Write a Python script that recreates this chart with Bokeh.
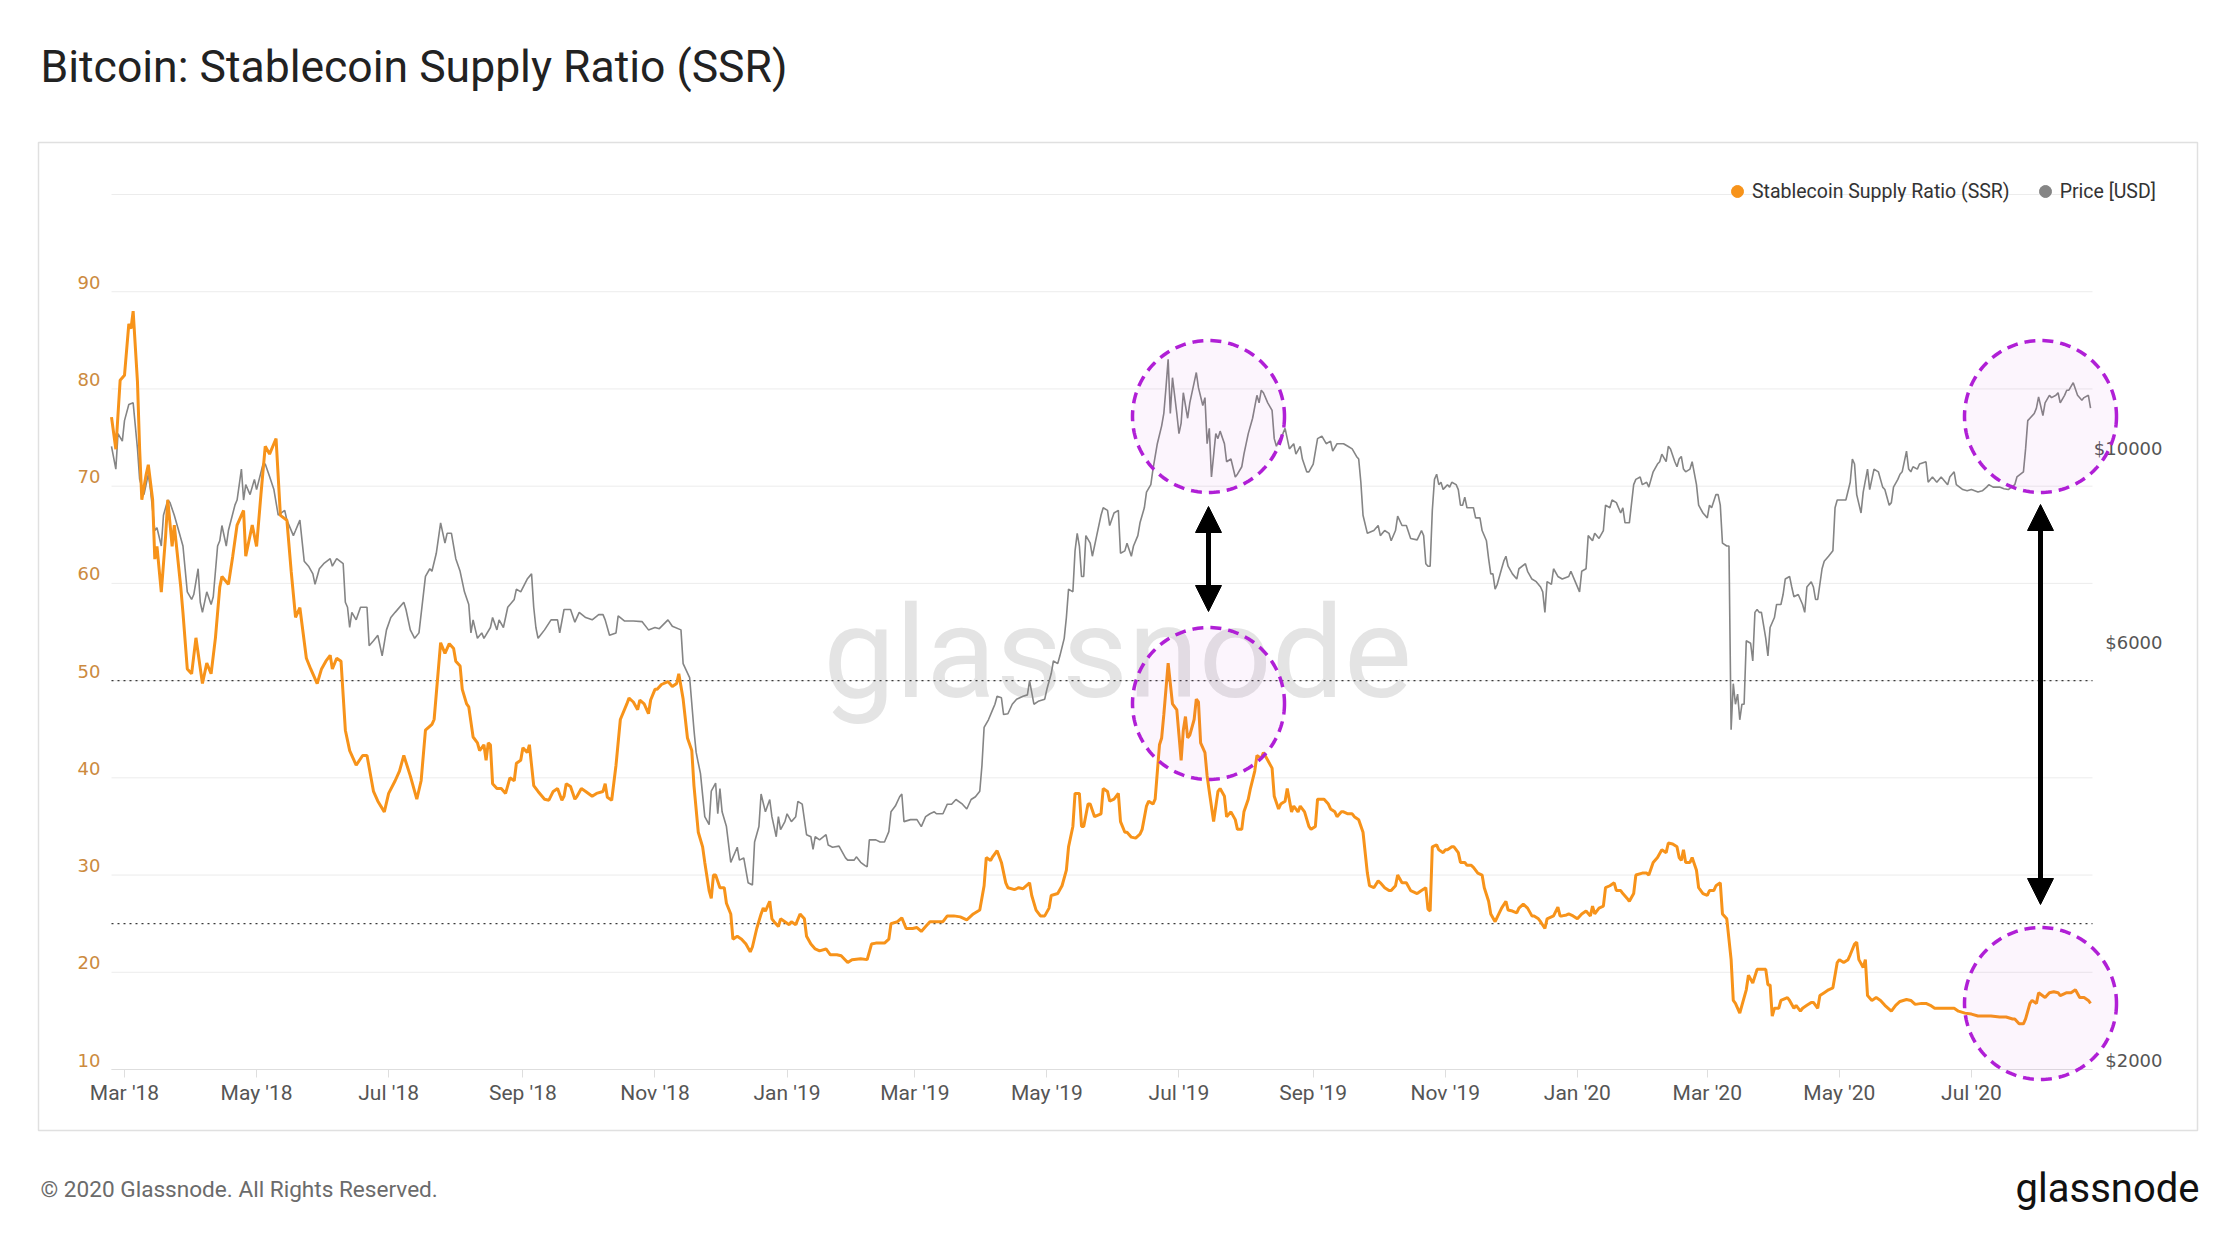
import numpy as np
import pandas as pd
from bokeh.plotting import figure
from bokeh.models import (Range1d, LogScale, FixedTicker, DatetimeTickFormatter, Label, Legend,
                          LegendItem, BoxAnnotation, PolyAnnotation, Arrow, NormalHead)
from bokeh.embed import file_html
from bokeh.resources import INLINE

# ---------------- data ----------------
START = "2018-03-01"   # day 0

ssr_day = [
    -6, -4, -2, 0, 2, 3, 4, 6, 7, 8,
    10, 11, 13, 14, 15, 17, 19, 20, 22, 23,
    26, 27, 29, 31, 33, 36, 38, 40, 42, 44,
    45, 48, 50, 52, 55, 56, 59, 61, 63, 65,
    67, 70, 72, 75, 77, 79, 81, 84, 86, 89,
    91, 93, 95, 96, 98, 100, 102, 104, 107, 110,
    112, 115, 117, 120, 122, 125, 127, 129, 132, 135,
    137, 139, 142, 143, 146, 148, 150, 152, 153, 155,
    156, 158, 159, 161, 163, 164, 166, 167, 168, 169,
    170, 172, 174, 176, 178, 180, 181, 183, 184, 186,
    187, 189, 191, 194, 196, 198, 200, 202, 203, 204,
    206, 208, 209, 211, 213, 216, 218, 221, 222, 223,
    225, 227, 229, 232, 233, 235, 237, 238, 240, 242,
    243, 245, 246, 248, 251, 253, 255, 256, 258, 260,
    262, 263, 265, 267, 268, 270, 271, 272, 273, 275,
    277, 278, 280, 281, 283, 285, 287, 289, 290, 292,
    294, 295, 296, 298, 299, 300, 302, 303, 305, 307,
    308, 310, 312, 314, 315, 317, 319, 321, 324, 326,
    329, 331, 334, 336, 340, 343, 345, 347, 351, 353,
    354, 357, 359, 361, 364, 366, 368, 370, 372, 375,
    378, 380, 383, 386, 389, 392, 395, 397, 398, 400,
    401, 403, 405, 407, 408, 411, 413, 415, 418, 419,
    421, 423, 425, 427, 428, 431, 433, 435, 436, 438,
    439, 441, 442, 443, 445, 446, 448, 451, 452, 454,
    455, 457, 459, 460, 462, 463, 465, 467, 469, 470,
    472, 473, 475, 476, 478, 479, 480, 482, 483, 484,
    486, 487, 488, 489, 490, 491, 492, 494, 495, 496,
    497, 499, 500, 501, 503, 505, 506, 508, 509, 511,
    513, 514, 516, 517, 519, 520, 522, 523, 525, 526,
    528, 530, 531, 533, 534, 536, 537, 539, 540, 542,
    543, 545, 547, 548, 550, 551, 553, 554, 556, 557,
    559, 560, 562, 563, 565, 567, 568, 570, 572, 574,
    575, 577, 579, 580, 582, 584, 585, 587, 588, 590,
    592, 594, 597, 599, 601, 602, 603, 604, 606, 607,
    609, 610, 611, 613, 614, 616, 617, 619, 620, 622,
    623, 625, 627, 628, 630, 631, 633, 636, 638, 639,
    641, 643, 644, 646, 648, 650, 651, 653, 654, 656,
    657, 659, 660, 662, 663, 664, 666, 667, 669, 671,
    673, 675, 677, 678, 679, 681, 683, 684, 686, 688,
    689, 691, 692, 694, 695, 697, 698, 701, 703, 704,
    706, 708, 710, 712, 713, 715, 717, 718, 719, 720,
    721, 723, 724, 726, 727, 729, 731, 732, 734, 735,
    737, 738, 740, 742, 743, 744, 746, 747, 749, 750,
    752, 754, 755, 756, 758, 759, 760, 761, 762, 764,
    765, 768, 769, 771, 772, 774, 775, 777, 779, 780,
    782, 783, 785, 787, 789, 791, 792, 794, 796, 797,
    799, 800, 801, 803, 804, 805, 807, 809, 811, 813,
    816, 818, 820, 823, 825, 827, 830, 832, 834, 836,
    839, 842, 845, 847, 850, 853, 856, 859, 862, 866,
    869, 872, 873, 875, 877, 878, 880, 881, 883, 884,
    887, 889, 891, 893, 894, 897, 899, 901, 903, 905,
    907, 908,
]
ssr_value = [
    77.1, 73.8, 80.9, 81.4, 86.7, 86.2, 88.0, 80.7, 73.8, 68.6,
    71.2, 72.2, 68.6, 62.5, 63.8, 59.1, 64.9, 68.6, 63.8, 66.0,
    59.6, 57.0, 51.2, 50.7, 54.4, 49.7, 51.8, 50.7, 54.4, 59.6,
    60.7, 59.9, 62.8, 66.0, 67.5, 62.8, 66.0, 63.8, 69.1, 74.1,
    73.3, 74.9, 67.0, 66.5, 61.2, 56.5, 57.5, 52.3, 51.2, 49.7,
    51.2, 52.0, 52.6, 51.2, 52.3, 52.0, 44.9, 42.8, 41.3, 42.3,
    42.3, 38.6, 37.6, 36.5, 38.4, 39.7, 40.7, 42.3, 40.2, 37.8,
    39.7, 44.9, 45.5, 46.0, 53.9, 52.8, 53.8, 53.3, 52.0, 51.5,
    49.1, 47.6, 47.3, 44.2, 43.6, 42.8, 43.4, 41.8, 43.6, 43.4,
    39.4, 38.9, 38.9, 38.4, 40.0, 39.7, 41.5, 41.8, 43.1, 42.6,
    43.4, 39.2, 38.6, 37.8, 37.7, 38.6, 38.9, 37.7, 38.1, 39.4,
    39.1, 37.8, 38.1, 38.9, 38.6, 38.1, 38.4, 38.6, 39.4, 38.0,
    37.7, 41.3, 46.0, 47.6, 48.2, 47.8, 47.0, 48.0, 47.6, 46.6,
    48.0, 49.1, 49.1, 49.6, 49.9, 49.4, 49.7, 50.7, 48.1, 44.1,
    42.8, 39.2, 34.4, 32.9, 31.3, 28.4, 27.6, 30.0, 30.0, 28.7,
    28.7, 27.1, 26.0, 23.4, 23.7, 23.4, 22.9, 22.1, 22.6, 24.5,
    26.0, 26.6, 26.3, 27.3, 25.5, 25.2, 24.7, 25.5, 25.2, 24.9,
    25.2, 24.9, 26.0, 25.5, 23.7, 22.9, 22.4, 22.2, 22.4, 21.8,
    21.8, 21.7, 21.0, 21.3, 21.4, 21.3, 22.9, 23.0, 23.0, 23.4,
    25.0, 25.2, 25.6, 24.5, 24.5, 24.6, 24.2, 24.7, 25.2, 25.2,
    25.2, 25.8, 25.8, 25.7, 25.4, 26.0, 26.4, 28.9, 31.8, 31.5,
    31.9, 32.5, 31.3, 29.2, 28.7, 28.5, 28.7, 28.6, 29.2, 27.9,
    26.4, 25.8, 25.8, 26.6, 27.9, 28.1, 28.9, 30.5, 32.9, 35.0,
    38.4, 38.4, 35.0, 35.0, 37.3, 37.3, 36.0, 36.3, 38.9, 38.6,
    37.6, 37.8, 38.4, 35.5, 34.4, 34.4, 33.9, 33.8, 34.2, 34.7,
    37.1, 37.6, 37.3, 37.8, 43.4, 44.1, 46.5, 51.8, 49.7, 47.6,
    47.0, 44.4, 41.8, 44.9, 46.3, 44.1, 44.4, 46.0, 48.1, 47.8,
    43.6, 42.6, 40.2, 38.6, 35.5, 38.6, 38.9, 38.1, 36.0, 36.5,
    35.7, 34.7, 34.7, 36.5, 37.8, 38.9, 40.7, 42.3, 42.0, 42.6,
    41.8, 41.0, 38.1, 36.8, 37.3, 37.6, 38.9, 36.5, 37.1, 36.5,
    37.1, 36.5, 35.0, 34.7, 35.0, 37.8, 37.8, 37.8, 37.3, 36.8,
    36.5, 36.0, 36.5, 36.5, 36.3, 36.3, 36.0, 35.7, 34.4, 30.2,
    28.9, 28.7, 29.4, 29.2, 28.7, 28.4, 28.4, 28.9, 30.0, 29.2,
    29.2, 28.4, 28.1, 28.4, 28.7, 26.5, 26.3, 32.9, 33.1, 32.6,
    32.3, 32.6, 32.6, 32.9, 32.9, 32.3, 31.3, 31.3, 31.0, 31.0,
    30.8, 30.2, 30.0, 28.7, 27.3, 26.0, 25.2, 26.6, 27.3, 26.4,
    26.3, 26.1, 26.6, 27.0, 26.6, 25.8, 25.8, 25.5, 25.2, 24.5,
    25.5, 25.7, 25.8, 26.7, 25.8, 25.8, 25.9, 26.0, 25.8, 25.5,
    26.0, 26.3, 25.8, 26.8, 26.0, 26.6, 26.8, 28.7, 28.9, 29.2,
    28.4, 28.4, 28.1, 27.6, 27.3, 28.1, 30.0, 30.2, 30.2, 30.0,
    31.3, 31.8, 32.6, 32.3, 33.3, 33.2, 32.9, 31.8, 31.5, 32.6,
    31.3, 31.3, 31.8, 30.5, 28.7, 28.1, 27.9, 28.4, 28.4, 28.9,
    29.2, 26.0, 25.5, 21.3, 17.1, 16.8, 15.8, 16.6, 18.2, 19.7,
    18.9, 20.3, 20.3, 20.3, 20.3, 18.7, 18.7, 15.5, 16.3, 16.3,
    17.1, 17.4, 17.1, 16.3, 16.6, 16.0, 16.3, 16.6, 16.9, 16.9,
    16.3, 17.6, 17.9, 18.2, 18.4, 21.0, 21.3, 21.0, 21.3, 21.8,
    22.9, 23.1, 21.3, 20.5, 21.3, 17.6, 17.1, 17.4, 17.1, 16.6,
    16.0, 16.6, 17.0, 17.2, 17.1, 16.7, 16.8, 16.8, 16.6, 16.3,
    16.3, 16.3, 16.3, 16.0, 15.8, 15.7, 15.5, 15.5, 15.5, 15.4,
    15.4, 15.2, 15.2, 14.7, 14.7, 15.2, 16.8, 17.1, 16.8, 17.9,
    17.4, 17.9, 18.0, 17.9, 17.6, 17.9, 17.9, 18.2, 17.4, 17.4,
    17.1, 16.8,
]

price_day = [
    -6, -4, -3, -1, 0, 2, 4, 6, 7, 9,
    11, 12, 14, 15, 17, 18, 20, 21, 23, 25,
    27, 29, 31, 32, 34, 35, 36, 38, 40, 41,
    43, 44, 45, 47, 48, 51, 52, 54, 55, 56,
    58, 60, 61, 64, 65, 67, 69, 71, 74, 75,
    78, 79, 81, 83, 85, 87, 88, 90, 92, 95,
    96, 98, 101, 102, 103, 104, 105, 107, 109, 112,
    113, 115, 117, 119, 121, 123, 125, 129, 130, 132,
    134, 136, 139, 141, 142, 144, 146, 148, 149, 151,
    153, 155, 157, 159, 160, 161, 163, 165, 166, 169,
    170, 172, 173, 175, 177, 180, 181, 183, 186, 188,
    189, 190, 191, 194, 197, 200, 201, 203, 206, 208,
    210, 213, 216, 219, 221, 222, 224, 227, 228, 231,
    235, 239, 242, 245, 247, 251, 253, 257, 258, 261,
    263, 264, 265, 266, 268, 270, 271, 273, 274, 275,
    276, 278, 280, 283, 284, 286, 288, 290, 291, 293,
    294, 296, 298, 299, 300, 301, 302, 303, 305, 306,
    308, 310, 311, 313, 315, 317, 318, 319, 321, 324,
    325, 327, 330, 333, 334, 337, 338, 340, 342, 343,
    344, 347, 349, 351, 353, 354, 356, 358, 359, 360,
    363, 366, 368, 370, 372, 374, 375, 378, 380, 382,
    384, 387, 389, 391, 393, 395, 396, 397, 399, 401,
    402, 403, 405, 406, 408, 410, 412, 415, 417, 418,
    420, 422, 425, 426, 428, 429, 431, 432, 434, 435,
    436, 438, 439, 440, 441, 442, 443, 444, 446, 447,
    448, 449, 451, 452, 454, 455, 457, 459, 460, 462,
    463, 465, 466, 468, 469, 471, 472, 474, 475, 477,
    479, 480, 481, 482, 483, 484, 486, 487, 488, 489,
    491, 492, 494, 495, 496, 498, 499, 500, 501, 502,
    504, 505, 506, 508, 509, 511, 513, 514, 516, 517,
    519, 521, 523, 524, 525, 526, 528, 530, 531, 532,
    533, 535, 536, 538, 540, 541, 543, 544, 546, 547,
    549, 551, 553, 555, 557, 558, 560, 563, 565, 567,
    569, 570, 571, 572, 574, 577, 579, 580, 582, 584,
    585, 587, 588, 590, 592, 594, 597, 599, 600, 601,
    602, 603, 604, 605, 606, 607, 608, 609, 610, 611,
    612, 613, 615, 616, 617, 618, 619, 620, 623, 624,
    626, 627, 629, 630, 631, 632, 633, 634, 636, 637,
    638, 639, 641, 643, 644, 647, 648, 650, 652, 654,
    655, 656, 657, 659, 660, 662, 664, 667, 668, 670,
    672, 673, 675, 676, 678, 679, 681, 683, 684, 686,
    687, 689, 691, 692, 693, 695, 697, 698, 700, 701,
    703, 704, 706, 708, 709, 710, 712, 713, 714, 716,
    717, 718, 719, 720, 721, 723, 724, 726, 727, 729,
    731, 732, 733, 735, 736, 737, 738, 740, 741, 742,
    743, 744, 745, 746, 747, 748, 749, 751, 752, 753,
    754, 755, 756, 758, 759, 760, 762, 763, 765, 766,
    767, 769, 770, 771, 773, 775, 776, 777, 779, 780,
    781, 782, 784, 785, 787, 789, 790, 791, 792, 795,
    797, 798, 799, 800, 802, 803, 805, 806, 808, 810,
    812, 813, 815, 816, 817, 819, 820, 821, 823, 824,
    825, 826, 828, 829, 832, 833, 835, 837, 839, 842,
    843, 845, 846, 849, 851, 853, 856, 858, 860, 861,
    863, 866, 868, 870, 873, 874, 877, 878, 879, 880,
    882, 883, 884, 886, 887, 889, 890, 892, 893, 894,
    896, 897, 898, 900, 902, 904, 905, 907, 908,
]
price_usd = [
    10310, 9710, 10660, 10450, 11030, 11510, 11560, 10240, 9450, 9080,
    9580, 9200, 8260, 8320, 7930, 8600, 8950, 8890, 8600, 8260,
    7930, 7030, 6890, 6980, 7470, 6840, 6660, 7030, 6800, 6940,
    7930, 8040, 8370, 7930, 8260, 8830, 8950, 9710, 8950, 9320,
    9080, 9450, 9200, 9840, 9840, 9520, 9200, 8600, 8710, 8490,
    8150, 8260, 8490, 7620, 7520, 7370, 7170, 7470, 7570, 7670,
    7520, 7670, 7570, 6840, 6750, 6400, 6660, 6530, 6750, 6750,
    6100, 6180, 6270, 5940, 6360, 6570, 6660, 6840, 6710, 6360,
    6220, 6310, 7320, 7470, 7420, 7780, 8430, 7990, 8200, 8200,
    7670, 7420, 7030, 6800, 6310, 6530, 6220, 6310, 6220, 6400,
    6570, 6360, 6530, 6400, 6750, 6890, 7080, 7030, 7270, 7370,
    6750, 6400, 6220, 6360, 6530, 6530, 6310, 6710, 6710, 6490,
    6660, 6570, 6530, 6620, 6620, 6530, 6270, 6310, 6600, 6510,
    6510, 6500, 6360, 6400, 6380, 6530, 6420, 6360, 5820, 5610,
    4890, 4610, 4480, 4360, 3890, 3810, 4160, 4250, 3920, 4190,
    3940, 3790, 3450, 3590, 3470, 3490, 3270, 3250, 3640, 3790,
    4130, 3940, 4070, 3890, 3790, 3690, 3890, 3760, 3840, 3920,
    3840, 3890, 4050, 4020, 3710, 3690, 3570, 3690, 3660, 3710,
    3610, 3590, 3600, 3490, 3470, 3470, 3500, 3450, 3420, 3410,
    3660, 3660, 3640, 3640, 3740, 3940, 4000, 4100, 4130, 3840,
    3860, 3860, 3790, 3890, 3920, 3940, 3920, 3920, 4020, 4020,
    4070, 4020, 3970, 4070, 4100, 4160, 4450, 4920, 5020, 5160,
    5230, 5340, 5320, 5090, 5100, 5230, 5300, 5340, 5360, 5560,
    5230, 5270, 5300, 5440, 5670, 5860, 5820, 5940, 6220, 6570,
    7080, 7030, 7830, 8200, 7930, 7320, 7320, 8150, 7990, 7720,
    7930, 8150, 8600, 8770, 8710, 8370, 8650, 8710, 7780, 7830,
    7990, 7720, 7930, 8150, 8430, 8770, 9140, 9320, 9710, 10380,
    10880, 11240, 12030, 12960, 11240, 12350, 11240, 10660, 10960, 11870,
    11100, 11560, 12190, 12520, 12030, 11480, 11720, 10380, 10810, 9510,
    10660, 10520, 10730, 10380, 9900, 9970, 9510, 9580, 9770, 10100,
    10660, 11100, 11790, 11560, 11950, 11870, 11560, 11330, 10520, 10310,
    10450, 10660, 10810, 10240, 10380, 10100, 10310, 9970, 9640, 9640,
    9840, 10520, 10590, 10380, 10450, 10180, 10380, 10380, 10310, 10240,
    10040, 9970, 9380, 8600, 8200, 8260, 8370, 8150, 8260, 8200,
    8040, 8260, 8580, 8370, 8370, 8090, 8060, 8260, 8150, 7570,
    7520, 7520, 8710, 9450, 9580, 9320, 9380, 9200, 9260, 9320,
    9260, 9380, 9320, 9200, 8830, 8830, 9020, 8770, 8770, 8540,
    8540, 8260, 8040, 7670, 7370, 7370, 7080, 7170, 7470, 7620,
    7720, 7520, 7370, 7270, 7470, 7570, 7420, 7270, 7220, 7120,
    7030, 6660, 7220, 7170, 7470, 7320, 7270, 7320, 7420, 7220,
    7030, 7420, 7470, 8150, 8040, 8200, 8090, 8260, 8830, 8770,
    8950, 8890, 8650, 8770, 8430, 8430, 9320, 9450, 9510, 9320,
    9380, 9260, 9640, 9840, 9900, 10100, 9900, 10310, 10240, 9900,
    9770, 9970, 10040, 9710, 9640, 9710, 9900, 9320, 8830, 8650,
    8540, 8830, 8770, 9080, 9080, 8830, 7990, 7930, 7930, 4890,
    5520, 5230, 5370, 5020, 5230, 5230, 6180, 6140, 5860, 6660,
    6710, 6660, 6660, 6220, 5940, 6400, 6570, 6800, 6800, 6980,
    7270, 7320, 7120, 6940, 6980, 6800, 6660, 7120, 7220, 7120,
    6890, 6890, 7470, 7620, 7720, 7830, 8770, 8950, 8950, 8950,
    9380, 9970, 9840, 9080, 8650, 9140, 9710, 9200, 9710, 9640,
    9260, 9200, 8830, 8890, 9260, 9450, 9580, 9640, 10180, 9710,
    9640, 9770, 9710, 9840, 9900, 9380, 9510, 9380, 9510, 9320,
    9510, 9640, 9320, 9200, 9170, 9200, 9140, 9170, 9260, 9320,
    9260, 9260, 9220, 9200, 9320, 9510, 9640, 10240, 11030, 11100,
    11240, 11400, 11740, 11180, 11560, 11790, 11720, 11790, 11870, 11560,
    11790, 11950, 11950, 12190, 11790, 11640, 11720, 11790, 11400,
]

x_tick_dates = ["2018-03-01", "2018-05-01", "2018-07-01", "2018-09-01", "2018-11-01",
                "2019-01-01", "2019-03-01", "2019-05-01", "2019-07-01", "2019-09-01",
                "2019-11-01", "2020-01-01", "2020-03-01", "2020-05-01", "2020-07-01"]
ssr_grid_levels = [10, 20, 30, 40, 50, 60, 70, 80, 90, 100]
ssr_tick_labels = [10, 20, 30, 40, 50, 60, 70, 80, 90]
price_tick_labels = [2000, 6000, 10000]
dotted_levels = [50, 25]

# ---------------- styling / layout ----------------
SSR_COLOR = "#f7931a"
PRICE_COLOR = "#858585"
PURPLE = "#b01fd6"
FONT = "Roboto"
NUM_FONT = "DejaVu Sans"

W, H = 2220, 1236                      # canvas (placed at page 0,0)
FL, FR, FT, FB = 111, 2092, 194, 1069  # data area in page px
DAY_L, DAY_R = -6.0, 908.9             # days at FL / FR
SSR_B, SSR_T = 10, 100                 # SSR at FB / FT
PRICE_B = 2000                         # price at FB, one decade up to FT

PPD = (FR - FL) / (DAY_R - DAY_L)
PPU = (FB - FT) / (SSR_T - SSR_B)
PPDEC = (FB - FT)
start = pd.Timestamp(START)
DAY_MS = 86400000.0
start_ms = start.value / 1e6


def day_at(X):
    return DAY_L + (X - FL) / PPD


def px_x(X):
    return start_ms + day_at(X) * DAY_MS


def px_y(Y):
    return SSR_T - (Y - FT) / PPU


def price_px(pr):
    return FB - PPDEC * np.log10(pr / PRICE_B)


ssr_x = (start + pd.to_timedelta(ssr_day, unit="D")).values
price_x = (start + pd.to_timedelta(price_day, unit="D")).values

p = figure(width=W, height=H, x_axis_type="datetime", y_axis_location=None, title=None,
           x_range=Range1d(px_x(0), px_x(W)), y_range=Range1d(px_y(H), px_y(0)),
           output_backend="svg", toolbar_location=None, min_border=0,
           outline_line_color=None, background_fill_color="white",
           border_fill_color="white")
p.extra_y_ranges = {"price": Range1d(PRICE_B * 10 ** ((FB - H) / PPDEC),
                                     PRICE_B * 10 ** (FB / PPDEC))}
p.extra_y_scales = {"price": LogScale()}
p.xgrid.visible = False
p.ygrid.visible = False

# x axis, drawn at SSR = 10 inside the canvas
xa = p.xaxis[0]
xa.fixed_location = SSR_B
xa.bounds = (px_x(FL), px_x(FR))
xa.ticker = FixedTicker(ticks=[pd.Timestamp(d).value / 1e6 for d in x_tick_dates])
fmt = "%b '%y"
xa.formatter = DatetimeTickFormatter(milliseconds=fmt, seconds=fmt, minsec=fmt, minutes=fmt,
                                     hourmin=fmt, hours=fmt, days=fmt, months=fmt, years=fmt)
xa.axis_line_color = "#dedede"
xa.major_tick_line_color = "#dedede"
xa.major_tick_out = 8
xa.major_tick_in = 0
xa.minor_tick_line_color = None
xa.major_label_standoff = 3
xa.major_label_text_font = FONT
xa.major_label_text_font_size = "21px"
xa.major_label_text_color = "#555555"

# outer frame box
p.add_layout(BoxAnnotation(left=px_x(38), right=px_x(2197), top=px_y(142), bottom=px_y(1130),
                           fill_color=None, fill_alpha=0, line_color="#e0e0e0", line_alpha=1,
                           line_width=1.5, level="underlay"))

# watermark
p.add_layout(Label(x=px_x(1117), y=px_y(652), text="glassnode", text_align="center",
                   text_baseline="middle", text_font=FONT, text_font_size="128px",
                   text_color="#e4e4e4", level="underlay"))

# horizontal grid lines and dotted guide lines, across the data area only
n = len(ssr_grid_levels)
p.segment(x0=[px_x(FL)] * n, x1=[px_x(FR)] * n, y0=ssr_grid_levels, y1=ssr_grid_levels,
          line_color="#ececec", line_width=1)
m = len(dotted_levels)
p.segment(x0=[px_x(FL)] * m, x1=[px_x(FR)] * m, y0=dotted_levels, y1=dotted_levels,
          line_color="#3a3a3a", line_width=1.3, line_dash="dotted")

# series
p.line(price_x, price_usd, y_range_name="price", line_color=PRICE_COLOR, line_width=1.6)
p.line(ssr_x, ssr_value, line_color=SSR_COLOR, line_width=3)

# legend (dot markers); the key renderers hold one point each, drawn with size 0
r_ssr = p.scatter(x=ssr_x[:1], y=ssr_value[:1], size=0, marker="circle",
                  fill_color=SSR_COLOR, line_color=SSR_COLOR)
r_price = p.scatter(x=price_x[:1], y=price_usd[:1], size=0, marker="circle",
                    y_range_name="price", fill_color=PRICE_COLOR, line_color=PRICE_COLOR)
legend = Legend(items=[LegendItem(label="Stablecoin Supply Ratio (SSR)", renderers=[r_ssr]),
                       LegendItem(label="Price [USD]", renderers=[r_price])],
                orientation="horizontal", location=(1722, H - 206),
                glyph_width=30, glyph_height=30, label_standoff=0, spacing=20,
                padding=0, margin=0, border_line_color=None, background_fill_alpha=0,
                label_text_font=FONT, label_text_font_size="19.5px", label_text_color="#333333")
p.add_layout(legend)

# y tick labels (left: SSR, right: price), sitting just above their level
for v in ssr_tick_labels:
    p.add_layout(Label(x=px_x(100), y=px_y(FB - (v - SSR_B) * PPU - 9.5), text=str(v),
                       text_align="right", text_baseline="middle",
                       text_font=NUM_FONT, text_font_size="18px", text_color="#cc8a3e"))
for pr in price_tick_labels:
    p.add_layout(Label(x=px_x(2162), y=px_y(price_px(pr) - 9.5), text=f"${pr}",
                       text_align="right", text_baseline="middle",
                       text_font=NUM_FONT, text_font_size="18px", text_color="#555555"))

# highlight circles
t = np.linspace(0, 2 * np.pi, 181)
for cx, cy in [(1208, 416), (1208, 703), (2040, 416), (2040, 1003)]:
    xs = [px_x(cx + 76 * np.cos(a)) for a in t]
    ys = [px_y(cy + 76 * np.sin(a)) for a in t]
    p.add_layout(PolyAnnotation(xs=xs, ys=ys, fill_color=PURPLE, fill_alpha=0.045,
                                line_color=PURPLE, line_alpha=1, line_width=3.5,
                                line_dash="11 7"))

# double-headed arrows
for ax, y_top, y_bot in [(1208, 506, 611), (2040, 504, 904)]:
    p.add_layout(Arrow(x_start=px_x(ax), y_start=px_y(y_bot), x_end=px_x(ax), y_end=px_y(y_top),
                       start=NormalHead(size=26, fill_color="black", line_color="black"),
                       end=NormalHead(size=26, fill_color="black", line_color="black"),
                       line_color="black", line_width=5))

# title, footer, logo
p.add_layout(Label(x=px_x(40), y=px_y(66), text="Bitcoin: Stablecoin Supply Ratio (SSR)",
                   text_align="left", text_baseline="middle", text_font=FONT,
                   text_font_size="44.5px", text_color="#222222"))
p.add_layout(Label(x=px_x(40), y=px_y(1189), text="© 2020 Glassnode. All Rights Reserved.",
                   text_align="left", text_baseline="middle", text_font=FONT,
                   text_font_size="22.6px", text_color="#6b6b6b"))
p.add_layout(Label(x=px_x(2199), y=px_y(1188), text="glassnode",
                   text_align="right", text_baseline="middle", text_font=FONT,
                   text_font_size="40px", text_color="#111111"))

open("out.html", "w").write(file_html(p, INLINE))
